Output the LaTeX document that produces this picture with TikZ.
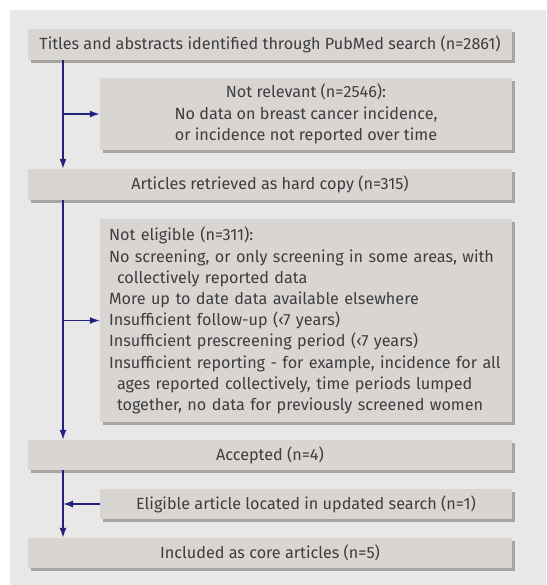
\documentclass[tikz,border=0pt]{standalone}
\usepackage{fontspec}
\setmainfont{Fira Sans}
\usepackage{xcolor}
\usetikzlibrary{positioning}
\usetikzlibrary{arrows.meta}
\usetikzlibrary{shadows}
\definecolor{panelgray}{HTML}{E8E8E8}
\definecolor{boxgray}{HTML}{D9D5D3}
\definecolor{shadegray}{HTML}{A8A4A2}
\definecolor{flownavy}{HTML}{22227A}
\definecolor{textgray}{HTML}{3E3E3E}

\begin{document}
\begin{tikzpicture}[x=1pt,y=-1pt,font=\fontsize{16.2}{21.2}\selectfont,text=textgray]
\tikzstyle{box}=[fill=boxgray,inner sep=0pt,
  drop shadow={shadow xshift=3pt,shadow yshift=-3pt,fill=shadegray,opacity=1}]
\tikzstyle{wide}=[box,minimum width=484pt]
\tikzstyle{side}=[box,minimum width=412pt]
\tikzstyle{flow}=[draw=flownavy,line width=1.4pt,-{Latex[length=10pt,width=7pt]}]

% panel
\useasboundingbox (0,0) rectangle (546,585);
\fill[panelgray] (10,10) rectangle (546,585);

% main column
\draw (270,44.5) node[wide,minimum height=31pt] (search) {Titles and abstracts identified through PubMed search (n=2861)}; % search
\draw (306,114) node[side,minimum height=72pt,align=center] (notrel) {Not relevant (n=2546):\\No data on breast cancer incidence,\\or incidence not reported over time}; % not relevant
\draw (270,184.5) node[wide,minimum height=31pt] (hard) {Articles retrieved as hard copy (n=315)}; % hard copy
\draw (306,320.5) node[side,minimum height=203pt,text width=394pt,align=left] (notelig) {Not eligible (n=311):\\
No screening, or only screening in some areas, with\\
\hspace*{8pt}collectively reported data\\
More up to date data available elsewhere\\
Insufficient follow-up (‹7 years)\\
Insufficient prescreening period (‹7 years)\\
Insufficient reporting - for example, incidence for all\\
\hspace*{8pt}ages reported collectively, time periods lumped\\
\hspace*{8pt}together, no data for previously screened women}; % not eligible
\draw (270,455) node[wide,minimum height=30pt] (accepted) {Accepted (n=4)}; % accepted
\draw (306,504) node[side,minimum height=30pt] (update) {Eligible article located in updated search (n=1)}; % updated search
\draw (270,553) node[wide,minimum height=30pt] (core) {Included as core articles (n=5)}; % core

% arrows
\coordinate (sp) at (63,0);
\draw[flow] (sp |- search.south) -- (sp |- hard.north);
\draw[flow] (sp |- notrel.west) -- (notrel.west);
\draw[flow] (sp |- hard.south) -- (sp |- accepted.north);
\draw[flow] (sp |- notelig.west) -- (notelig.west);
\draw[flow] (sp |- accepted.south) -- (sp |- core.north);
\draw[flow] (update.west) -- (sp |- update.west);
\end{tikzpicture}
\end{document}
